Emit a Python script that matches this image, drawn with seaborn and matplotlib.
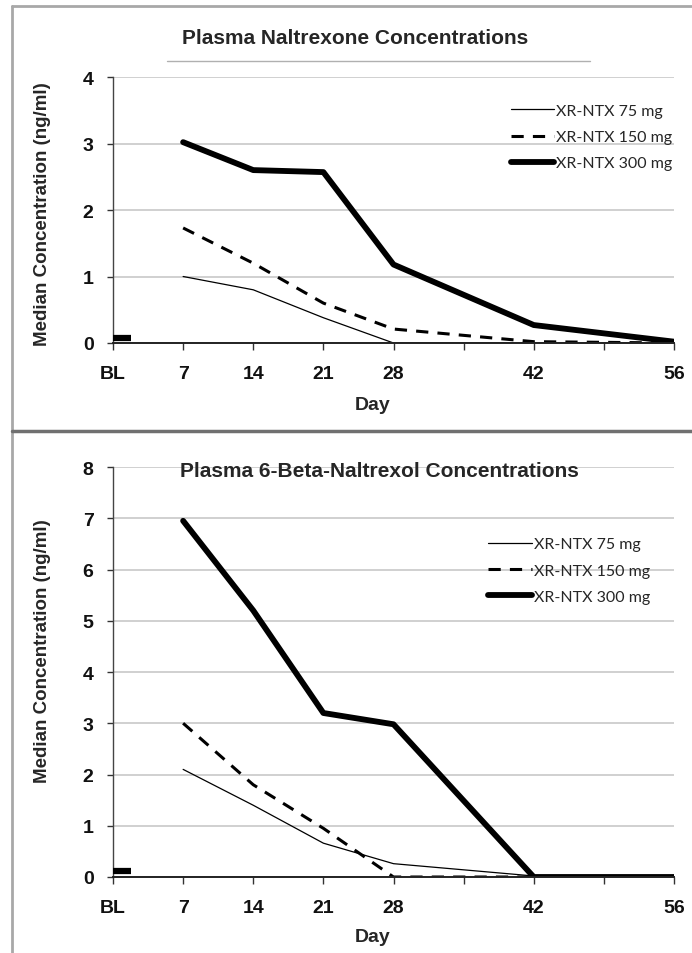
import numpy as np
import pandas as pd
import matplotlib
matplotlib.use("Agg")
import matplotlib.pyplot as plt
from matplotlib.lines import Line2D
import seaborn as sns

# data
days = [7, 14, 21, 28, 42, 56]
doses = ["XR-NTX 75 mg", "XR-NTX 150 mg", "XR-NTX 300 mg"]

ntx_75 = [1.00, 0.80, 0.38, 0.00, 0.00, 0.00]
ntx_150 = [1.73, 1.20, 0.60, 0.21, 0.02, 0.00]
ntx_300 = [3.02, 2.60, 2.57, 1.18, 0.27, 0.02]

beta_75 = [2.10, 1.40, 0.66, 0.26, 0.02, 0.00]
beta_150 = [3.00, 1.80, 0.95, 0.00, 0.00, 0.00]
beta_300 = [6.95, 5.20, 3.20, 2.98, 0.00, 0.00]

bl_days = [0, 1.8]
bl_ntx = 0.08
bl_beta = 0.11

xtick_pos = [0, 7, 14, 21, 28, 35, 42, 49, 56]
xtick_labels = ["BL", "7", "14", "21", "28", "", "42", "", "56"]

sns.set_theme(style="white")
plt.rcParams["font.family"] = ["Liberation Sans", "DejaVu Sans"]

styles = {
    "XR-NTX 75 mg": dict(lw=0.9, ls="-"),
    "XR-NTX 150 mg": dict(lw=2.2, ls=(0, (4, 3))),
    "XR-NTX 300 mg": dict(lw=4.2, ls="-"),
}

W, H = 692, 954
fig = plt.figure(figsize=(W / 100, H / 100), dpi=100)


def frac(x0, y0, x1, y1):
    return [x0 / W, 1 - y1 / H, (x1 - x0) / W, (y1 - y0) / H]


ax1 = fig.add_axes(frac(113, 78, 674, 344))
ax2 = fig.add_axes(frac(113, 468, 674, 878))

panels = [
    (ax1, [ntx_75, ntx_150, ntx_300], bl_ntx, 4, 0.929),
    (ax2, [beta_75, beta_150, beta_300], bl_beta, 8, 0.848),
]

for ax, series, bl_val, ymax, leg_y in panels:
    df = pd.DataFrame({
        "day": days * 3,
        "conc": series[0] + series[1] + series[2],
        "dose": np.repeat(doses, len(days)),
    })
    for d in doses:
        sub = df[df["dose"] == d]
        sns.lineplot(data=sub, x="day", y="conc", ax=ax, color="black",
                     linewidth=styles[d]["lw"], linestyle=styles[d]["ls"],
                     legend=False, zorder=3)
    ax.plot(bl_days, [bl_val, bl_val], color="black", lw=4.5,
            solid_capstyle="butt", zorder=3)

    ax.set_xlim(0, 56)
    ax.set_ylim(0, ymax)
    ax.set_yticks(range(0, ymax + 1))
    ax.set_xticks(xtick_pos)
    ax.set_xticklabels(xtick_labels)
    ax.set_xlabel("")
    ax.set_ylabel("")
    ax.grid(axis="y", color="#c4c4c4", lw=1.1, zorder=0)
    ax.grid(axis="x", visible=False)
    for s in ["top", "right"]:
        ax.spines[s].set_visible(False)
    ax.spines["left"].set_color("#444444")
    ax.spines["left"].set_linewidth(1.0)
    ax.spines["bottom"].set_color("#222222")
    ax.spines["bottom"].set_linewidth(1.4)
    ax.spines["bottom"].set_zorder(4)
    ax.tick_params(axis="x", bottom=True, length=5, width=1, color="#333333",
                   direction="out", pad=11)
    ax.tick_params(axis="y", left=True, length=4, width=1, color="#333333",
                   direction="out", pad=10)
    for lab in ax.get_xticklabels() + ax.get_yticklabels():
        lab.set_fontfamily(["Liberation Sans Narrow", "Liberation Sans"])
        lab.set_fontweight("bold")
        lab.set_fontsize(14)
        lab.set_color("#111111")

    handles = [Line2D([0], [0], color="black", lw=styles[d]["lw"],
                      ls=styles[d]["ls"]) for d in doses]
    ax.legend(handles, doses, loc="upper left",
              bbox_to_anchor=(0.695 if ymax == 4 else 0.655, leg_y),
              frameon=False, borderpad=0, handlelength=2.7,
              handletextpad=0.15, labelspacing=0.75,
              prop={"family": "Lato", "size": 11.5})

# titles and axis labels
fig.text(355 / W, 1 - 38 / H, "Plasma Naltrexone Concentrations",
         ha="center", va="center", fontsize=15, fontweight="bold")
fig.text(379 / W, 1 - 472 / H, "Plasma 6-Beta-Naltrexol Concentrations",
         ha="center", va="center", fontsize=15, fontweight="bold", zorder=5)
fig.text(43 / W, 1 - 214 / H, "Median Concentration (ng/ml)", rotation=90,
         ha="center", va="center", fontsize=13.5, fontweight="bold")
fig.text(43 / W, 1 - 651 / H, "Median Concentration (ng/ml)", rotation=90,
         ha="center", va="center", fontsize=13.5, fontweight="bold")
fig.text(373 / W, 1 - 405 / H, "Day", ha="center", va="center",
         fontsize=14, fontweight="bold")
fig.text(373 / W, 1 - 938 / H, "Day", ha="center", va="center",
         fontsize=14, fontweight="bold")

# frame around the panels
fig.add_artist(Line2D([12 / W, 12 / W], [0, 1 - 7 / H], color="#a8a8a8", lw=2))
fig.add_artist(Line2D([12 / W, 1], [1 - 7 / H, 1 - 7 / H], color="#a8a8a8", lw=2))
fig.add_artist(Line2D([12 / W, 1], [1 - 432 / H, 1 - 432 / H], color="#707070", lw=2.5))
fig.add_artist(Line2D([167 / W, 590 / W], [1 - 62 / H, 1 - 62 / H], color="#b0b0b0", lw=1))

fig.savefig("out.png", dpi=100)
